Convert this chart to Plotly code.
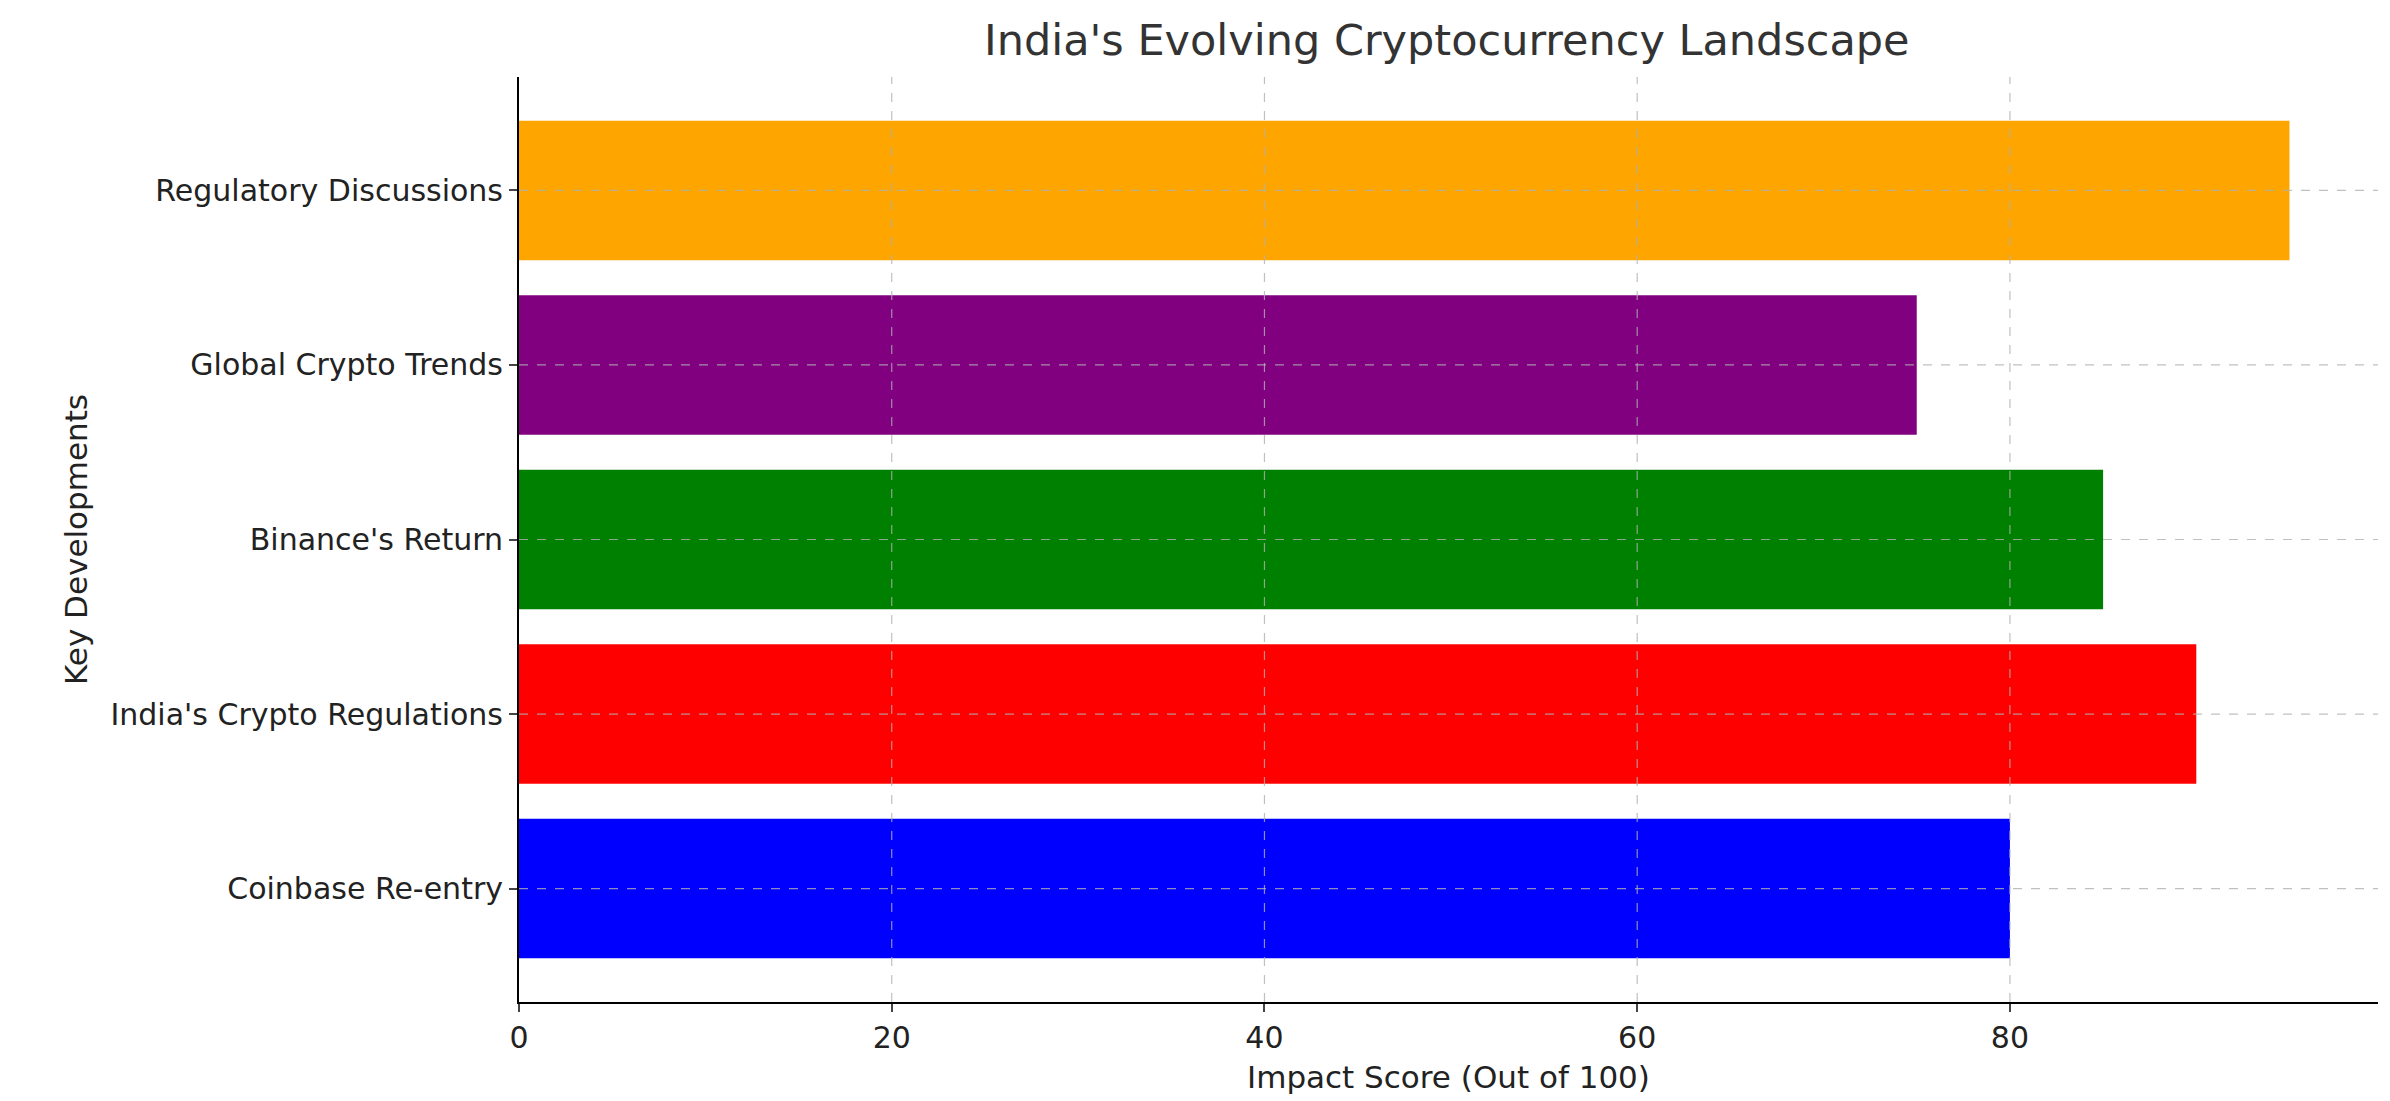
import plotly.graph_objects as go

developments = ["Coinbase Re-entry", "India's Crypto Regulations", "Binance's Return",
                "Global Crypto Trends", "Regulatory Discussions"]
scores = [80, 90, 85, 75, 95]
colors = ["blue", "red", "green", "purple", "orange"]
x_ticks = [0, 20, 40, 60, 80]

fig = go.Figure()
fig.add_trace(go.Bar(y=developments, x=scores, orientation="h", width=0.8,
                     marker=dict(color=colors, line=dict(width=0))))

# grid drawn above the bars like in the original
grid = dict(color="rgba(176,176,176,0.8)", width=1.2, dash="dash")
for t in x_ticks[1:]:
    fig.add_shape(type="line", x0=t, x1=t, y0=0, y1=1, xref="x", yref="paper",
                  line=grid, layer="above")
for d in developments:
    fig.add_shape(type="line", x0=0, x1=1, y0=d, y1=d, xref="paper", yref="y",
                  line=grid, layer="above")

font = "DejaVu Sans"
fig.update_layout(
    width=2390, height=1101,
    margin=dict(l=511, r=20, t=69, b=107),
    plot_bgcolor="white", paper_bgcolor="white",
    showlegend=False,
    title=dict(text="India's Evolving Cryptocurrency Landscape", x=0.602, xanchor="center",
               y=0.985, yanchor="top", font=dict(family=font, size=43, color="#333333")),
    xaxis=dict(range=[0, 99.75], tickvals=x_ticks, showgrid=False, zeroline=False,
               showline=True, linecolor="black", linewidth=2, ticks="outside",
               ticklen=8, tickwidth=1.5, tickfont=dict(family=font, size=30, color="#222"),
               title=dict(text="Impact Score (Out of 100)", standoff=12,
                          font=dict(family=font, size=31, color="#222"))),
    yaxis=dict(range=[-0.65, 4.65], showgrid=False, zeroline=False, showline=True,
               linecolor="black", linewidth=2, ticks="outside", ticklen=8, tickwidth=1.5,
               tickfont=dict(family=font, size=30, color="#222"),
               title=dict(text="Key Developments", standoff=14,
                          font=dict(family=font, size=31, color="#222"))),
)

fig.write_html("out.html")
